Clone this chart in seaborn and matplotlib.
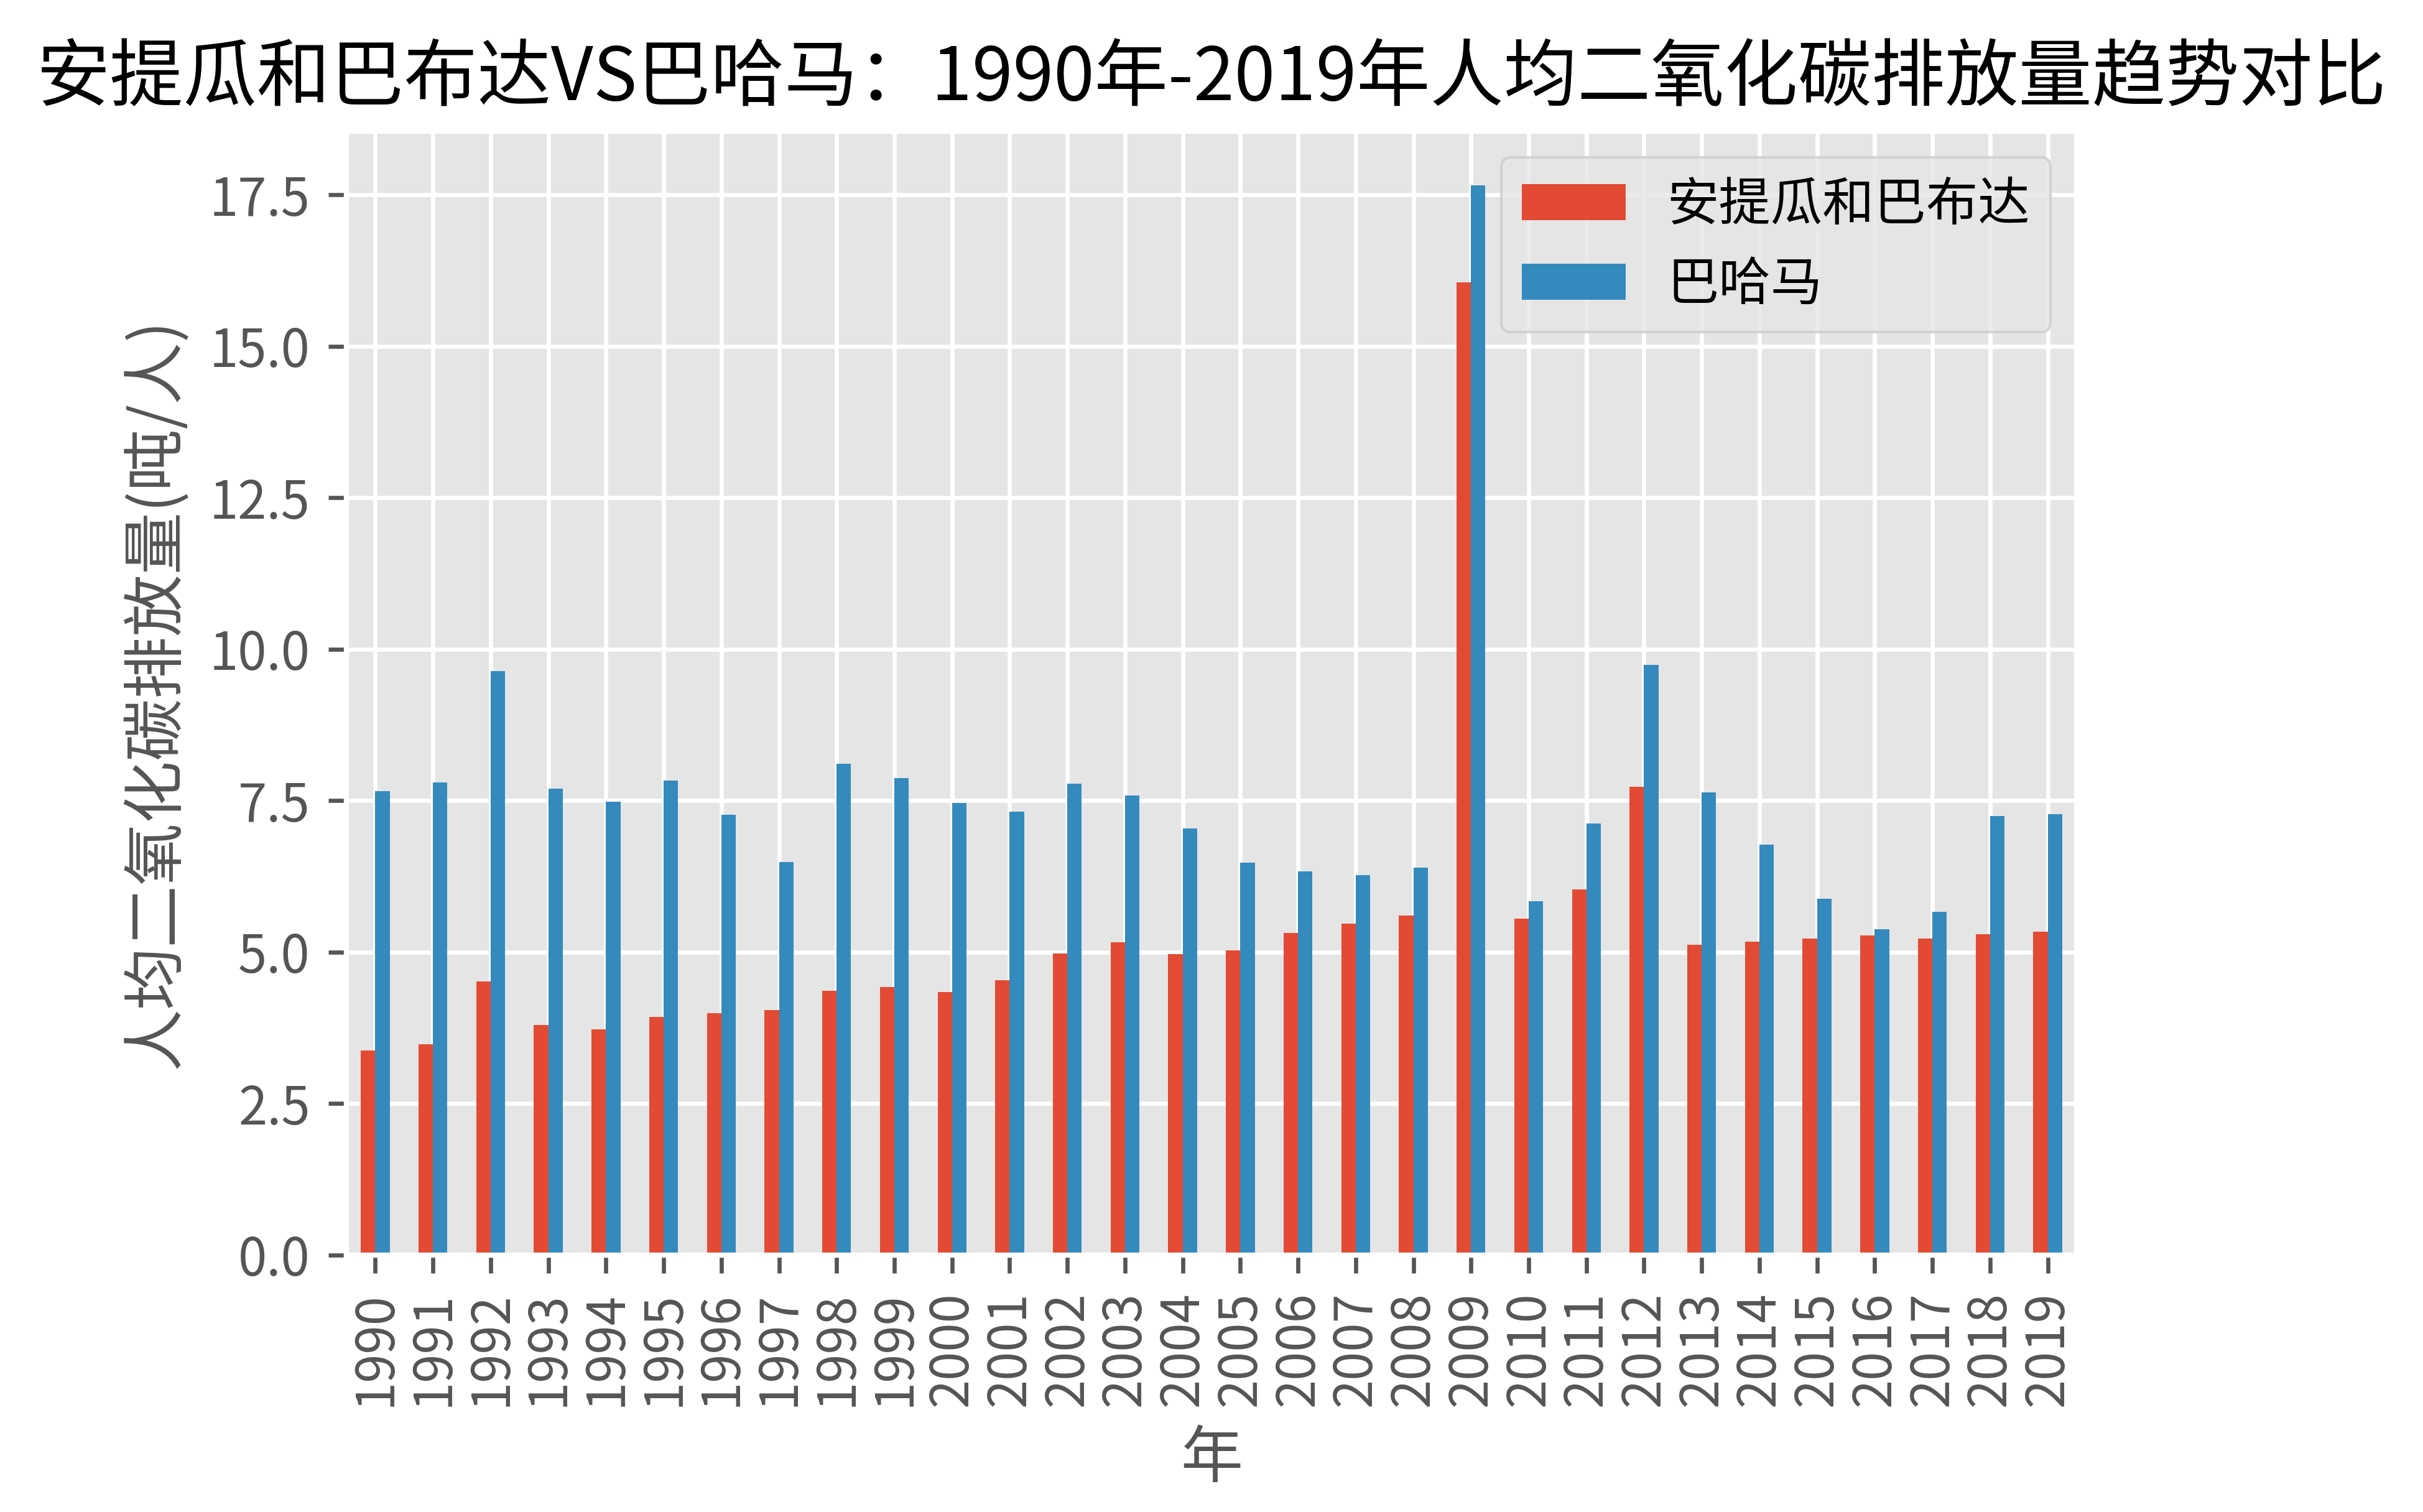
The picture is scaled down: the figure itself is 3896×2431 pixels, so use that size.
import pandas as pd
import matplotlib
matplotlib.use('Agg')
import matplotlib.pyplot as plt
import seaborn as sns

# per-capita CO2 emissions (t/person)
years = [1990, 1991, 1992, 1993, 1994, 1995, 1996, 1997, 1998, 1999,
         2000, 2001, 2002, 2003, 2004, 2005, 2006, 2007, 2008, 2009,
         2010, 2011, 2012, 2013, 2014, 2015, 2016, 2017, 2018, 2019]
antigua = [3.37, 3.48, 4.51, 3.80, 3.72, 3.93, 3.99, 4.04, 4.36, 4.42,
           4.34, 4.53, 4.98, 5.16, 4.97, 5.03, 5.32, 5.47, 5.60, 16.05,
           5.55, 6.03, 7.73, 5.12, 5.17, 5.22, 5.27, 5.22, 5.29, 5.34]
bahamas = [7.66, 7.80, 9.64, 7.70, 7.48, 7.83, 7.27, 6.49, 8.11, 7.87,
           7.46, 7.32, 7.78, 7.58, 7.04, 6.48, 6.33, 6.27, 6.39, 17.66,
           5.84, 7.12, 9.74, 7.64, 6.77, 5.88, 5.38, 5.66, 7.25, 7.28]
countries = ['安提瓜和巴布达', '巴哈马']


def main():
    plt.style.use('ggplot')
    plt.rcParams['font.family'] = ['Noto Sans CJK SC', 'DejaVu Sans']
    plt.rcParams['axes.unicode_minus'] = False

    df = pd.DataFrame({'年': years, countries[0]: antigua, countries[1]: bahamas})
    long_df = df.melt(id_vars='年', var_name='国家', value_name='排放量')

    fig, ax = plt.subplots(figsize=(3896 / 600, 2431 / 600), dpi=600)
    fig.subplots_adjust(left=0.143, right=0.857, top=0.913, bottom=0.170)

    sns.barplot(data=long_df, x='年', y='排放量', hue='国家', hue_order=countries,
                palette=['#E24A33', '#348ABD'], saturation=1, width=0.5,
                linewidth=0, ax=ax)

    ax.xaxis.grid(True)
    ax.set_xlim(-0.5, len(years) - 0.5)
    ax.tick_params(axis='x', labelrotation=90)
    ax.set_title('安提瓜和巴布达VS巴哈马：1990年-2019年人均二氧化碳排放量趋势对比',
                 fontsize=14.2)
    ax.set_xlabel('年')
    ax.set_ylabel('人均二氧化碳排放量(吨/人)')
    ax.legend(loc='upper right', title=None)

    fig.savefig('out.png', dpi=600)


if __name__ == "__main__":
    main()
